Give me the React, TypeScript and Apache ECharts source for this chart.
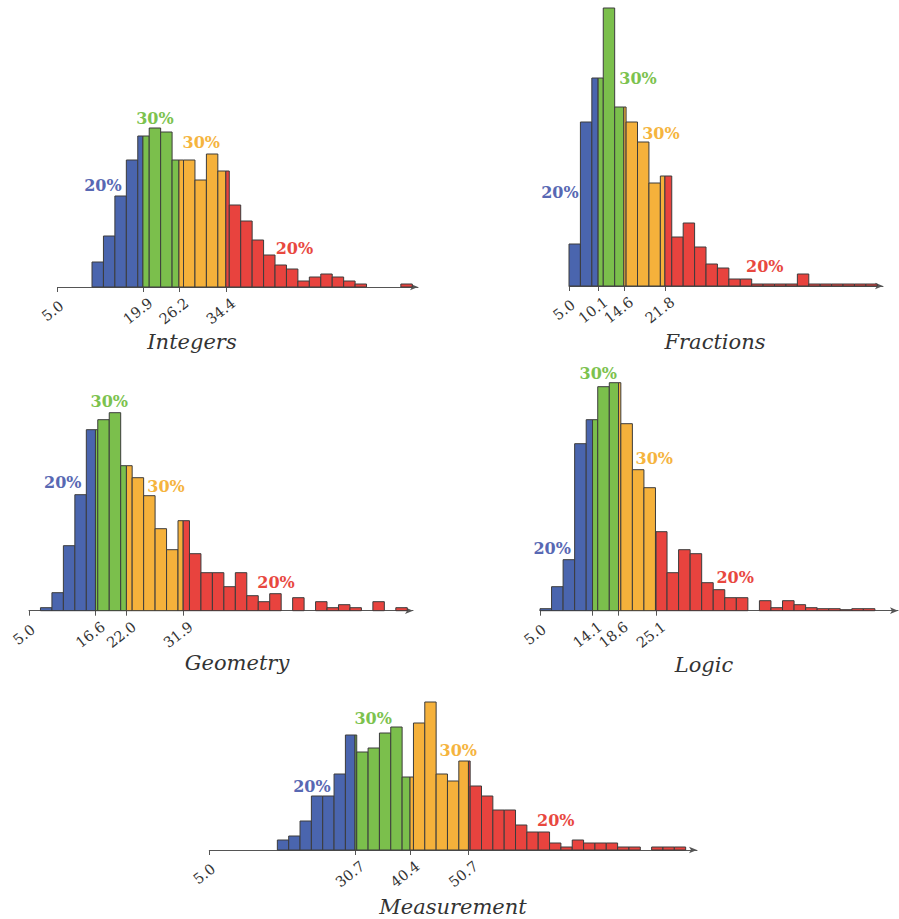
import React, { useEffect, useRef } from "react";
import * as echarts from "echarts";

const BIN_WIDTH = 2;
const AXIS_MIN = 5;

// Integers
const integersStart = 11;
const integersCounts = [25, 51, 91, 127, 151, 159, 155, 127, 127, 107, 133, 116, 82, 66, 47, 32, 22, 18, 6, 10, 13, 10, 6, 3, 0, 0, 0, 3];
const integersQuantiles = [19.9, 26.2, 34.4];
const integersLabelAnchors = [[12.9, 102], [22.0, 169], [30.1, 145], [46.4, 39]];

// Fractions
const fractionsStart = 5;
const fractionsCounts = [42, 164, 208, 278, 179, 164, 144, 103, 110, 49, 63, 39, 22, 18, 7, 7, 2, 2, 2, 2, 12, 2, 2, 2, 2, 2, 2];
const fractionsQuantiles = [10.1, 14.6, 21.8];
const fractionsLabelAnchors = [[3.4, 94], [17.1, 208], [21.1, 153], [39.3, 20]];

// Geometry
const geometryStart = 7;
const geometryCounts = [3, 18, 65, 116, 181, 191, 198, 145, 133, 115, 82, 61, 90, 57, 38, 38, 24, 38, 15, 9, 17, 0, 13, 0, 9, 3, 6, 3, 0, 9, 0, 3];
const geometryQuantiles = [16.6, 22.0, 31.9];
const geometryLabelAnchors = [[10.9, 128], [19.0, 209], [28.9, 124], [48.1, 28]];

// Logic
const logicStart = 5;
const logicCounts = [2, 24, 51, 167, 191, 224, 228, 187, 141, 123, 79, 38, 61, 57, 28, 21, 13, 13, 0, 10, 3, 10, 6, 3, 2, 2, 1, 2, 2];
const logicQuantiles = [14.1, 18.6, 25.1];
const logicLabelAnchors = [[7.1, 62], [15.1, 237], [24.8, 152], [38.8, 33]];

// Measurement
const measurementStart = 17;
const measurementCounts = [10, 14, 29, 54, 54, 76, 115, 98, 102, 117, 123, 73, 127, 148, 76, 69, 89, 64, 54, 40, 40, 25, 18, 18, 7, 3, 10, 7, 7, 7, 3, 3, 0, 3, 3, 3];
const measurementQuantiles = [30.7, 40.4, 50.7];
const measurementLabelAnchors = [[23.1, 64], [33.9, 132], [48.9, 100], [66.1, 30]];

const groupShares = ["20%", "30%", "30%", "20%"];
const BAR_COLORS = ["#4a65ae", "#7bbf4c", "#f5b13b", "#e8433e"];
const LABEL_COLORS = ["#5868b3", "#7cc24e", "#f5b43e", "#e8483f"];

const SERIF = "'DejaVu Serif', 'Liberation Serif', serif";
const TICK_LABEL_ANGLE = (38 * Math.PI) / 180;

type Panel = {
  name: string;
  start: number;
  counts: number[];
  quantiles: number[];
  anchors: number[][];
  max: number;
  layout: { left: number; width: number; baseline: number; height: number; yMax: number; titleX: number; titleY: number };
};

const panels: Panel[] = [
  { name: "Integers", start: integersStart, counts: integersCounts, quantiles: integersQuantiles, anchors: integersLabelAnchors, max: 68,
    layout: { left: 57.7, width: 360.3, baseline: 287, height: 200, yMax: 200, titleX: 192, titleY: 342 } },
  { name: "Fractions", start: fractionsStart, counts: fractionsCounts, quantiles: fractionsQuantiles, anchors: fractionsLabelAnchors, max: 60,
    layout: { left: 569, width: 314, baseline: 286, height: 280, yMax: 280, titleX: 715, titleY: 342 } },
  { name: "Geometry", start: geometryStart, counts: geometryCounts, quantiles: geometryQuantiles, anchors: geometryLabelAnchors, max: 72,
    layout: { left: 29, width: 384, baseline: 610.7, height: 240, yMax: 240, titleX: 237, titleY: 663 } },
  { name: "Logic", start: logicStart, counts: logicCounts, quantiles: logicQuantiles, anchors: logicLabelAnchors, max: 67,
    layout: { left: 540, width: 358, baseline: 610.7, height: 240, yMax: 240, titleX: 704, titleY: 665 } },
  { name: "Measurement", start: measurementStart, counts: measurementCounts, quantiles: measurementQuantiles, anchors: measurementLabelAnchors, max: 91,
    layout: { left: 209.3, width: 487.7, baseline: 850, height: 160, yMax: 160, titleX: 453, titleY: 907 } },
];

function segments(start: number, counts: number[], q: number[]) {
  const out: number[][] = [];
  counts.forEach((c, i) => {
    if (c <= 0) return;
    const a = start + i * BIN_WIDTH;
    const b = a + BIN_WIDTH;
    const cuts = [a, ...q.filter((v) => v > a && v < b), b];
    for (let k = 0; k < cuts.length - 1; k++) {
      const mid = (cuts[k] + cuts[k + 1]) / 2;
      const g = q.filter((v) => v <= mid).length;
      out.push([cuts[k], cuts[k + 1], c, g]);
    }
  });
  return out;
}

function buildOption() {
  const grid: any[] = [];
  const xAxis: any[] = [];
  const yAxis: any[] = [];
  const series: any[] = [];
  const graphic: any[] = [];

  panels.forEach((p, idx) => {
    const L = p.layout;
    grid.push({ left: L.left, width: L.width, top: L.baseline - L.height, height: L.height, containLabel: false, outerBoundsMode: "none" });
    const ticks = [AXIS_MIN, ...p.quantiles];
    xAxis.push({
      type: "value", gridIndex: idx, min: AXIS_MIN, max: p.max,
      splitLine: { show: false },
      axisLine: { show: true, onZero: false, lineStyle: { color: "#555", width: 1 }, symbol: ["none", "arrow"], symbolSize: [5, 8] },
      axisTick: { show: true, length: 5, lineStyle: { color: "#555" }, customValues: ticks },
      axisLabel: { show: false },
    });
    yAxis.push({ type: "value", gridIndex: idx, min: 0, max: L.yMax, show: false, splitLine: { show: false } });
    series.push({
      type: "custom", xAxisIndex: idx, yAxisIndex: idx, clip: false,
      data: segments(p.start, p.counts, p.quantiles),
      encode: { x: [0, 1], y: 2 },
      renderItem: (params: any, api: any) => {
        const p0 = api.coord([api.value(0), api.value(2)]);
        const p1 = api.coord([api.value(1), 0]);
        return {
          type: "rect",
          shape: { x: p0[0], y: p0[1], width: p1[0] - p0[0], height: p1[1] - p0[1] },
          style: { fill: BAR_COLORS[api.value(3)], stroke: "#3c3c3c", lineWidth: 1 },
        };
      },
    });
    // rotated tick labels
    series.push({
      type: "custom", xAxisIndex: idx, yAxisIndex: idx, clip: false, silent: true,
      data: ticks.map((t) => [t, 0]),
      encode: { x: 0, y: 1 },
      renderItem: (params: any, api: any) => {
        const v = api.value(0);
        const pt = api.coord([v, 0]);
        return {
          type: "text", x: pt[0] - 5, y: pt[1] + 24, rotation: TICK_LABEL_ANGLE,
          style: { text: v.toFixed(1), fill: "#333", font: `14.5px ${SERIF}`, align: "center", verticalAlign: "middle" },
        };
      },
    });
    series.push({
      type: "custom", xAxisIndex: idx, yAxisIndex: idx, clip: false, silent: true,
      data: p.anchors.map((a, g) => [a[0], a[1], g]),
      encode: { x: 0, y: 1 },
      renderItem: (params: any, api: any) => {
        const pt = api.coord([api.value(0), api.value(1)]);
        const g = api.value(2);
        return {
          type: "text", x: pt[0], y: pt[1],
          style: { text: groupShares[g], fill: LABEL_COLORS[g], font: `bold 16px ${SERIF}`, align: "center", verticalAlign: "middle" },
        };
      },
    });
    graphic.push({
      type: "text", x: L.titleX, y: L.titleY,
      style: { text: p.name, fill: "#333", font: `italic 21px ${SERIF}`, align: "center", verticalAlign: "middle" },
    });
  });

  return { animation: false, backgroundColor: "#ffffff", grid, xAxis, yAxis, series, graphic };
}

export default function App() {
  const ref = useRef<HTMLDivElement>(null);
  useEffect(() => {
    if (!ref.current) return;
    const chart = echarts.init(ref.current, null, { renderer: "svg" });
    chart.setOption(buildOption() as any);
    return () => chart.dispose();
  }, []);
  return <div ref={ref} style={{ position: "fixed", left: 0, top: 0, width: 899, height: 919, background: "#fff" }} />;
}
